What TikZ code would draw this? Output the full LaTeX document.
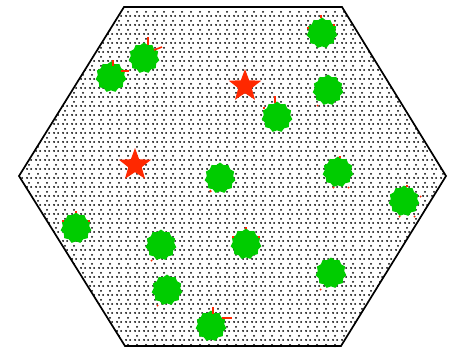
\documentclass[tikz,border=0pt]{standalone}
\usetikzlibrary{patterns,shapes.geometric}
\pgfdeclarepatternformonly{hexdots}{\pgfpointorigin}{\pgfpoint{8.6pt}{8.6pt}}{\pgfpoint{8.6pt}{8.6pt}}{%
  \pgfpathcircle{\pgfpoint{1.075pt}{1.075pt}}{1.05pt}%
  \pgfpathcircle{\pgfpoint{5.375pt}{1.075pt}}{1.05pt}%
  \pgfpathcircle{\pgfpoint{3.225pt}{5.375pt}}{1.05pt}%
  \pgfusepath{fill}}
\definecolor{blobgreen}{RGB}{0,204,0}
\definecolor{starred}{RGB}{255,40,0}
\tikzset{
  blob/.style={star, star points=11, star point ratio=1.16, minimum size=31pt, inner sep=0pt, fill=blobgreen, draw=none},
  redstar/.style={star, star points=5, star point ratio=2.4, minimum size=34pt, inner sep=0pt, fill=starred, draw=none},
  tick/.style={draw=starred, line width=1.6pt},
  hexline/.style={draw=black, line width=1.7pt, line join=miter}
}
\begin{document}
\begin{tikzpicture}[x=1pt,y=-1pt]
\useasboundingbox (0,0) rectangle (449,349);
% hexagon
\fill[pattern=hexdots, pattern color=black] (124,7) -- (342,7) -- (446,176) -- (341,346) -- (125,346) -- (19,176) -- cycle;
\draw[hexline] (124,7) -- (342,7) -- (446,176) -- (341,346) -- (125,346) -- (19,176) -- cycle;
% green blobs
\node[blob] (g1) at (111,77) {};
\node[blob] (g2) at (144,58) {};
\node[blob] (g3) at (322,33) {};
\node[blob] (g4) at (328,90) {};
\node[blob] (g5) at (277,117) {};
\node[blob] (g6) at (220,178) {};
\node[blob] (g7) at (338,172) {};
\node[blob] (g8) at (404,201) {};
\node[blob] (g9) at (76,228) {};
\node[blob] (g10) at (161,245) {};
\node[blob] (g11) at (167,290) {};
\node[blob] (g12) at (211,326) {};
\node[blob] (g13) at (246,244) {};
\node[blob] (g14) at (331,273) {};
% red bits
\draw[tick] ([shift={(2,-17)}]g1.center) -- ++(0,6);
\draw[tick] ([shift={(10,-6)}]g1.center) -- ++(8,0);
\draw[tick] ([shift={(4,-21)}]g2.center) -- ++(0,8);
\draw[tick] ([shift={(10,-8)}]g2.center) -- ++(8,-3);
\draw[tick] ([shift={(-1,-18)}]g3.center) -- ++(0,3);
\draw[tick] ([shift={(11,-8)}]g3.center) -- ++(2,0);
\draw[tick] ([shift={(-15,-5)}]g3.center) -- ++(2,0);
\draw[tick] ([shift={(-11,15)}]g4.center) -- ++(1,1);
\draw[tick] ([shift={(-2,-21)}]g5.center) -- ++(0,7);
\draw[tick] ([shift={(-14,-9)}]g5.center) -- ++(2,0);
\draw[tick] ([shift={(-10,12)}]g6.center) -- ++(1,2);
\draw[tick] ([shift={(2,-16)}]g7.center) -- ++(0,2);
\draw[tick] ([shift={(-5,15)}]g7.center) -- ++(1,1);
\draw[tick] ([shift={(10,15)}]g7.center) -- ++(1,1);
\draw[tick] ([shift={(3,-16)}]g8.center) -- ++(0,2);
\draw[tick] ([shift={(16,-5)}]g8.center) -- ++(1,1);
\draw[tick] ([shift={(-5,15)}]g8.center) -- ++(1,1);
\draw[tick] ([shift={(10,15)}]g8.center) -- ++(1,1);
\draw[tick] ([shift={(0,-17)}]g9.center) -- ++(0,2);
\draw[tick] ([shift={(-14,-7)}]g9.center) -- ++(2,0);
\draw[tick] ([shift={(12,-7)}]g9.center) -- ++(2,0);
\draw[tick] ([shift={(-10,15)}]g10.center) -- ++(1,1);
\draw[tick] ([shift={(-10,15)}]g11.center) -- ++(1,1);
\draw[tick] ([shift={(2,-19)}]g12.center) -- ++(0,7);
\draw[tick] ([shift={(11,-8)}]g12.center) -- ++(10,0);
\draw[tick] ([shift={(0,-17)}]g13.center) -- ++(0,2);
\draw[tick] ([shift={(-14,-7)}]g13.center) -- ++(2,0);
\draw[tick] ([shift={(12,-7)}]g13.center) -- ++(2,0);
\draw[tick] ([shift={(-11,16)}]g14.center) -- ++(1,1);
% red stars
\node[redstar] (s1) at (245,86) {};
\node[redstar] (s2) at (135,165) {};
\end{tikzpicture}
\end{document}
